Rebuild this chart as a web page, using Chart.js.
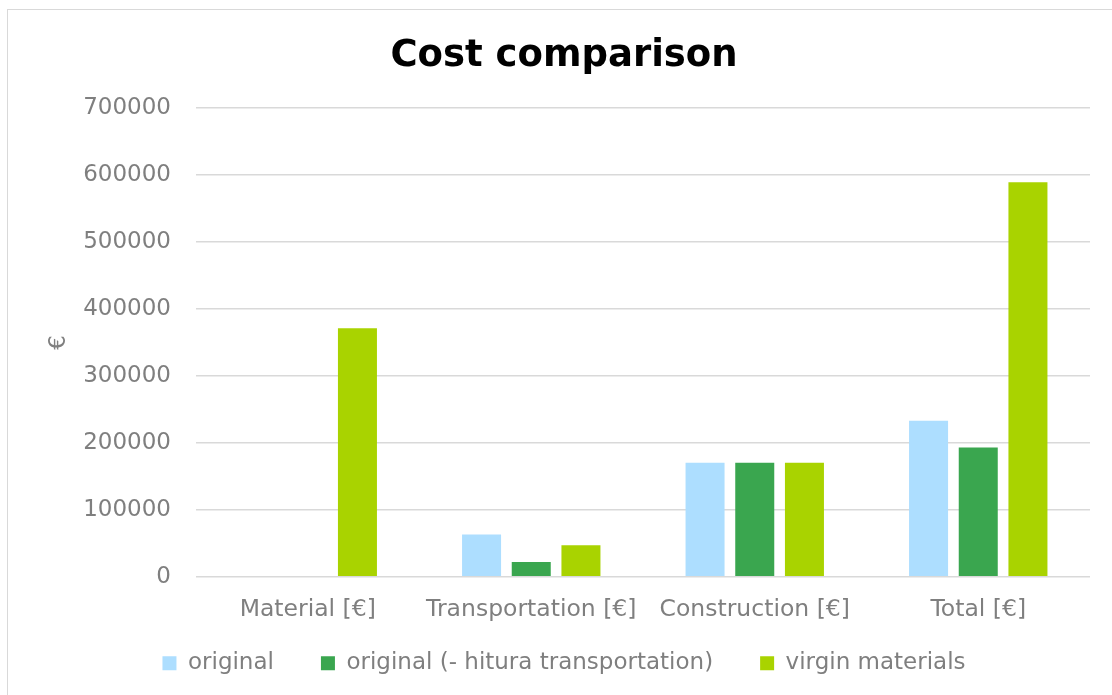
<!DOCTYPE html>
<html>
<head>
<meta charset="utf-8">
<script src="https://cdn.jsdelivr.net/npm/chart.js@4.4.1/dist/chart.umd.min.js"></script>
<style>
  html, body { margin: 0; padding: 0; background: #ffffff; overflow: hidden; }
  #viewport { position: relative; width: 1112px; height: 695px; overflow: hidden; }
  #frame {
    position: absolute; left: 7px; top: 9px;
    width: 1112px; height: 700px;
    border-top: 1px solid #d9d9d9; border-left: 1px solid #d9d9d9;
    background: #ffffff;
  }
  #chart { display: block; }
</style>
</head>
<body>
<div id="viewport">
  <div id="frame"><canvas id="chart" width="1112" height="700"></canvas></div>
</div>
<script>
// Cost categories and the three scenarios compared (values in euros)
const categories = ['Material [€]', 'Transportation [€]', 'Construction [€]', 'Total [€]'];
const original = [0, 63000, 170000, 233000];
const originalNoHitura = [0, 22000, 170000, 193000];
const virginMaterials = [371000, 47000, 170000, 589000];
const seriesNames = ['original', 'original (- hitura transportation)', 'virgin materials'];
const seriesColors = ['#ADDEFF', '#3AA64F', '#A9D300'];
const yMax = 700000;
const yStep = 100000;

const FONT = "'DejaVu Sans', Verdana, sans-serif";
const GREY = '#7f7f7f';

Chart.defaults.font.family = FONT;

// Pull the legend a little closer to the category labels
const legendLift = {
  id: 'legendLift',
  afterLayout(chart) {
    const lg = chart.legend;
    if (!lg) return;
    lg.top -= 20;
    lg.bottom -= 20;
  }
};

const ctx = document.getElementById('chart');
new Chart(ctx, {
  type: 'bar',
  data: {
    labels: categories,
    datasets: [original, originalNoHitura, virginMaterials].map((vals, i) => ({
      label: seriesNames[i],
      data: vals,
      backgroundColor: seriesColors[i],
      borderWidth: 0,
      categoryPercentage: 0.667,
      barPercentage: 0.785
    }))
  },
  plugins: [legendLift],
  options: {
    responsive: false,
    animation: false,
    devicePixelRatio: 1,
    layout: { padding: { left: 0, right: 0, top: 0, bottom: 5.3 } },
    plugins: {
      tooltip: { enabled: false },
      title: {
        display: true,
        text: 'Cost comparison',
        color: '#000000',
        font: { family: FONT, size: 37, weight: 'bold' },
        padding: { top: 23.8, bottom: 29.8 }
      },
      legend: {
        position: 'bottom',
        labels: {
          color: GREY,
          font: { family: FONT, size: 23 },
          boxWidth: 14,
          boxHeight: 14,
          padding: 47
        }
      }
    },
    scales: {
      x: {
        afterFit(scale) { scale.height = 48; },
        grid: { display: false, drawTicks: false },
        border: { display: false },
        ticks: {
          color: GREY,
          font: { family: FONT, size: 23.5 },
          padding: 19,
          maxRotation: 0,
          autoSkip: false
        }
      },
      y: {
        min: 0,
        max: yMax,
        afterFit(scale) { scale.width = 188; },
        border: { display: false },
        grid: { color: '#d9d9d9', lineWidth: 1.5, drawTicks: false },
        ticks: {
          stepSize: yStep,
          color: GREY,
          font: { family: FONT, size: 23 },
          padding: 25,
          callback: (v) => String(v)
        },
        title: {
          display: true,
          text: '€',
          color: GREY,
          font: { family: FONT, size: 23 },
          padding: { top: 37, bottom: 0 }
        }
      },
      // empty margin on the right of the plot
      yRight: {
        position: 'right',
        min: 0,
        max: yMax,
        afterFit(scale) { scale.width = 30; },
        grid: { display: false, drawTicks: false },
        border: { display: false },
        ticks: { display: false }
      }
    }
  }
});
</script>
</body>
</html>
